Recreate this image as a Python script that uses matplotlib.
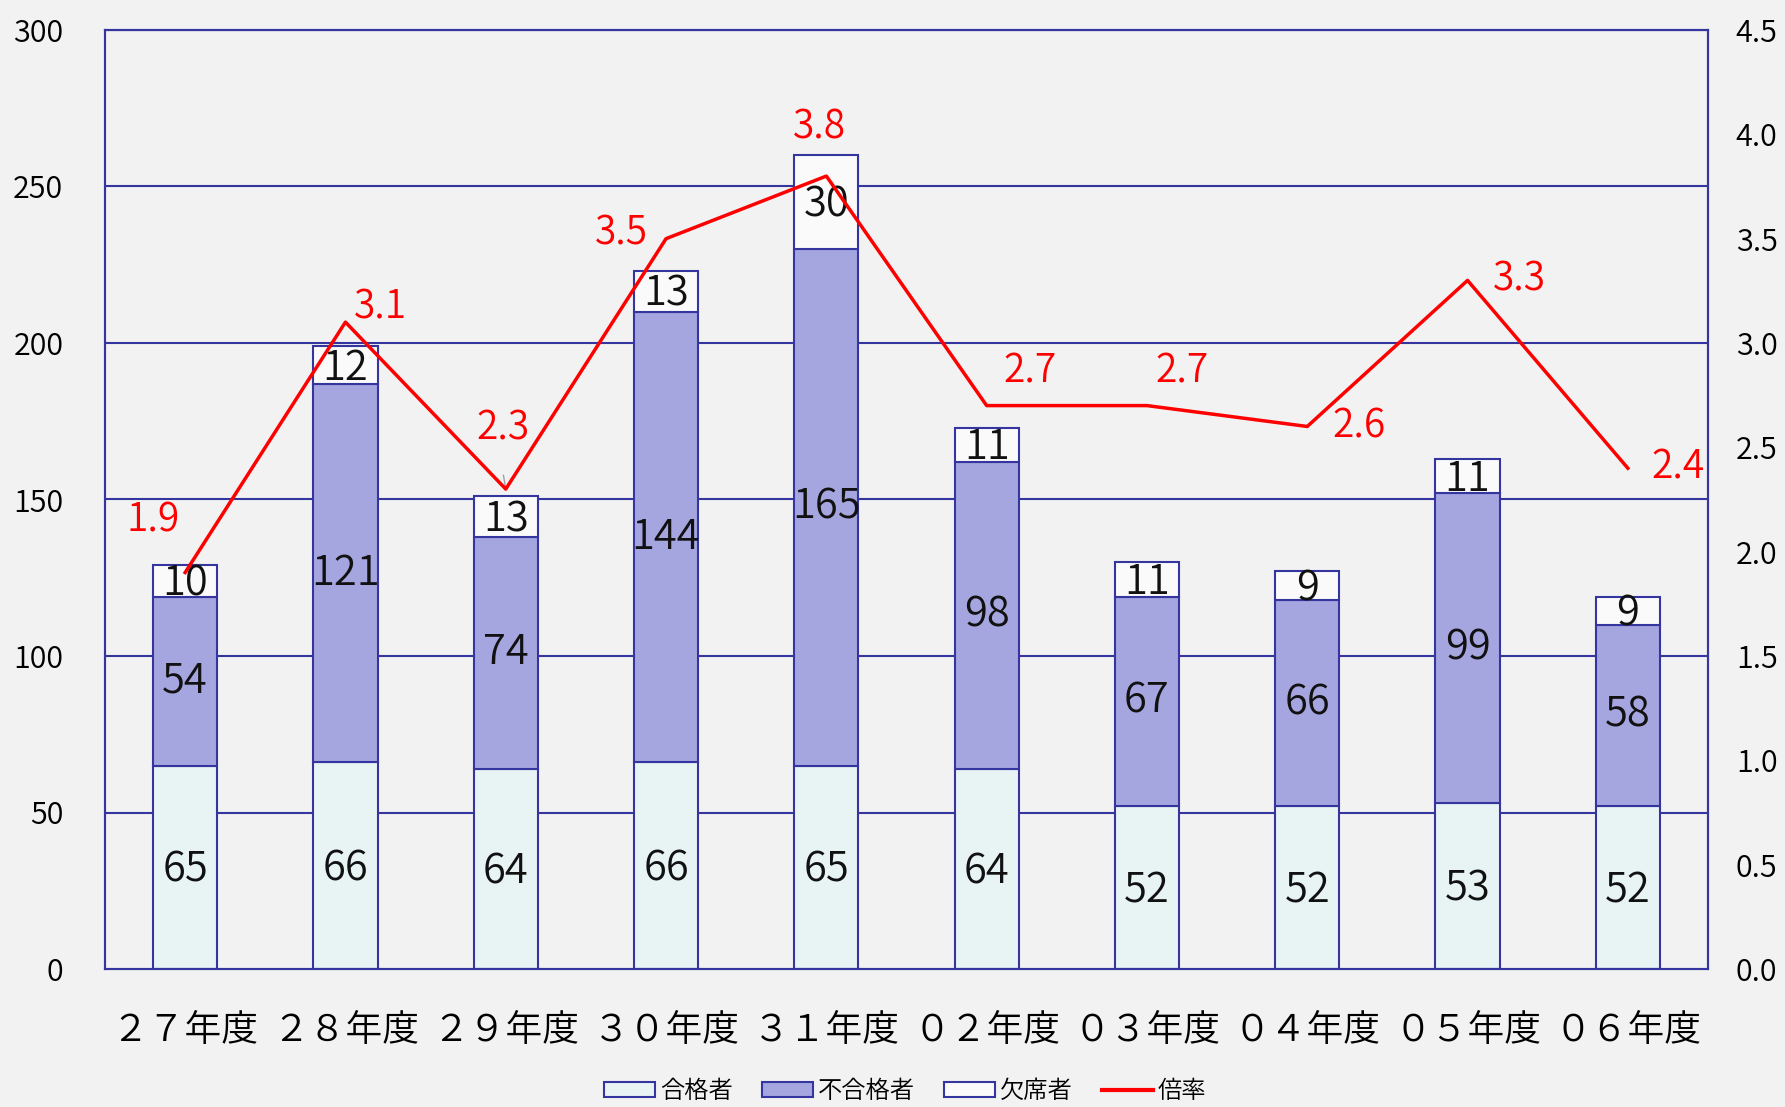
import matplotlib
matplotlib.use("Agg")
import matplotlib.pyplot as plt
from matplotlib.patches import Patch
from matplotlib.lines import Line2D

plt.rcParams['font.family'] = ['Noto Sans CJK JP', 'DejaVu Sans']

# data
years = ["２７年度", "２８年度", "２９年度", "３０年度", "３１年度",
         "０２年度", "０３年度", "０４年度", "０５年度", "０６年度"]
passed = [65, 66, 64, 66, 65, 64, 52, 52, 53, 52]
failed = [54, 121, 74, 144, 165, 98, 67, 66, 99, 58]
absent = [10, 12, 13, 13, 30, 11, 11, 9, 11, 9]
ratio = [1.9, 3.1, 2.3, 3.5, 3.8, 2.7, 2.7, 2.6, 3.3, 2.4]

# label offsets (points) for the ratio labels
ratio_offsets = [(-23, 38), (25, 11), (-2, 44), (-32, 4), (-5, 35),
                 (31, 25), (25, 25), (37, 0), (37, 1), (36, 1)]

bg = "#F2F2F2"
navy = "#3535A0"
c_pass = "#E8F3F4"
c_fail = "#A5A5E0"
c_abs = "#FAFAFA"
lw_txt = 350

fig = plt.figure(figsize=(17.85, 11.07), dpi=100, facecolor=bg)
ax = fig.add_axes([105 / 1785, 1 - 969 / 1107, (1708 - 105) / 1785, (969 - 30) / 1107])
ax.set_facecolor(bg)

x = list(range(len(years)))
w = 0.4
bottom2 = [p + f for p, f in zip(passed, failed)]

for y in range(50, 301, 50):
    ax.axhline(y, color=navy, lw=1.5, zorder=1)

b1 = ax.bar(x, passed, w, color=c_pass, edgecolor=navy, lw=1.5, zorder=2)
b2 = ax.bar(x, failed, w, bottom=passed, color=c_fail, edgecolor=navy, lw=1.5, zorder=2)
b3 = ax.bar(x, absent, w, bottom=bottom2, color=c_abs, edgecolor=navy, lw=1.5, zorder=2)

for i in x:
    ax.text(i, passed[i] / 2 - 1, str(passed[i]), ha='center', va='center', fontsize=30,
            color='#111111', fontweight=lw_txt, zorder=5)
    ax.text(i, passed[i] + failed[i] / 2, str(failed[i]), ha='center', va='center', fontsize=30,
            color='#111111', fontweight=lw_txt, zorder=5)
    ax.text(i, bottom2[i] + absent[i] / 2 - 1, str(absent[i]), ha='center', va='center', fontsize=30,
            color='#111111', fontweight=lw_txt, zorder=5)

ax.set_xlim(-0.5, len(years) - 0.5)
ax.set_ylim(0, 300)
ax.set_yticks(range(0, 301, 50))
ax.set_xticks(x)
ax.set_xticklabels(years, fontsize=26.5, fontweight=lw_txt)
ax.set_yticklabels([str(v) for v in range(0, 301, 50)], fontweight=lw_txt)
ax.tick_params(axis='y', length=0, labelsize=22, pad=30)
ax.tick_params(axis='x', length=0, pad=30)
for s in ax.spines.values():
    s.set_color(navy)
    s.set_linewidth(1.5)

ax2 = ax.twinx()
ax2.plot(x, ratio, color='#FF0000', lw=2.5, zorder=4)
ax2.set_ylim(0, 4.5)
ax2.set_yticks([i * 0.5 for i in range(10)])
ax2.set_yticklabels([f"{i * 0.5:.1f}" for i in range(10)], fontweight=lw_txt)
ax2.tick_params(axis='y', length=0, labelsize=22, pad=20)
for s in ax2.spines.values():
    s.set_color(navy)
    s.set_linewidth(1.5)

for i in x:
    ax2.annotate(f"{ratio[i]:.1f}", (i, ratio[i]), xytext=ratio_offsets[i], textcoords='offset points',
                 ha='center', va='center', fontsize=28, color='#FF0000', fontweight=lw_txt, zorder=6)
# little leader line under the 2.3 label
ax2.annotate("", (2, ratio[2]), xytext=(-2, 12), textcoords='offset points',
             arrowprops=dict(arrowstyle='-', color='#A0A0A0', lw=1))

handles = [Patch(facecolor=c_pass, edgecolor=navy, lw=1.5),
           Patch(facecolor=c_fail, edgecolor=navy, lw=1.5),
           Patch(facecolor=c_abs, edgecolor=navy, lw=1.5),
           Line2D([], [], color='#FF0000', lw=3)]
fig.legend(handles, ["合格者", "不合格者", "欠席者", "倍率"], loc='lower center',
           bbox_to_anchor=(0.507, -0.017), ncol=4, frameon=False,
           prop={'size': 17.5, 'weight': lw_txt},
           handlelength=2.1, handleheight=0.6, columnspacing=1.2, handletextpad=0.2)

fig.savefig("out.png", dpi=100, facecolor=bg)
